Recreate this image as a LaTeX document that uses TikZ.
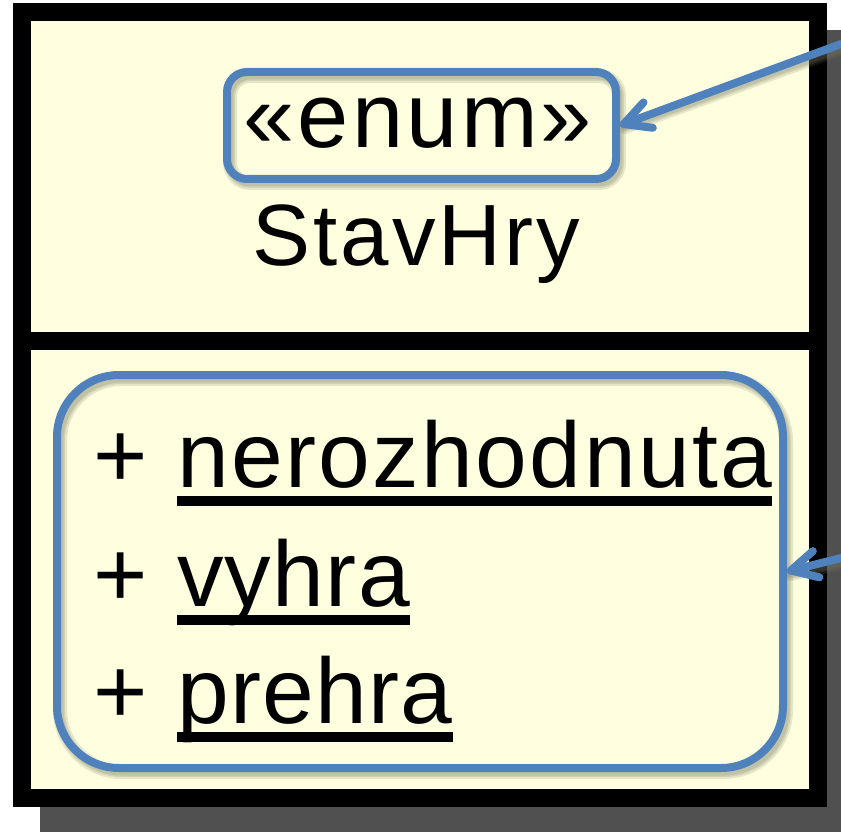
\documentclass[tikz,border=0pt]{standalone}
\usepackage{fontspec}
\setmainfont{Liberation Sans}
\newfontfamily\titlefont[LetterSpace=3.5]{Liberation Sans}
\newfontfamily\attrfont[LetterSpace=1.5]{Liberation Sans}
\newfontfamily\wideattrfont[LetterSpace=2.6]{Liberation Sans}
\usetikzlibrary{arrows.meta}
\definecolor{umlfill}{RGB}{255,255,224}
\definecolor{umlblue}{RGB}{79,129,189}
\definecolor{umlshadow}{RGB}{80,80,80}
\definecolor{softshadow}{RGB}{120,120,95}
\tikzset{
  frameline/.style={line width=18pt, draw=black},
  bluebox/.style={draw=umlblue, line width=8pt, inner sep=0pt},
  boxshadow/.style={draw=softshadow, line width=#1, opacity=0.18},
  bluearrow/.style={draw=umlblue, line width=8pt, line cap=round,
    -{Straight Barb[length=26pt,width=27pt,round]}},
  txt/.style={inner sep=0pt, outer sep=0pt, text=black},
  uline/.style={line width=9.5pt, draw=black},
}
\begin{document}
\begin{tikzpicture}[x=1pt,y=-1pt]
\useasboundingbox (0,0) rectangle (841,832);
% drop shadow of the class box
\fill[umlshadow] (40,30) rectangle (841,832);
% class frame
\draw[frameline, fill=umlfill] (22,12) rectangle (818,798);
\draw[frameline] (22,341) -- (818,341);

% soft shadows of the blue highlights
\foreach \w in {14pt,10pt,7pt}{
  \draw[boxshadow=\w, rounded corners=20pt] (230,76) rectangle (619,183);
  \draw[boxshadow=\w, rounded corners=62pt] (60,379) rectangle (786,772);
  \draw[boxshadow=\w, line cap=round] (845,47) -- (625,127);
  \draw[boxshadow=\w, line cap=round] (845,562) -- (791,574);
}

% blue highlight boxes
\node[bluebox, rounded corners=20pt, minimum width=389pt, minimum height=107pt]
  (stereo) at (421.5,125.5) {};
\node[bluebox, rounded corners=62pt, minimum width=726pt, minimum height=393pt]
  (attrs) at (420,571.5) {};

% texts
\node[txt, anchor=base] (stereotxt) at (418,148)
  {\titlefont\fontsize{92pt}{92pt}\selectfont «enum»};
\node[txt, anchor=base] (classname) at (416.5,265)
  {\titlefont\fontsize{87pt}{87pt}\selectfont StavHry};

\node[txt, anchor=base west] (p1) at (93,487) {\fontsize{93pt}{93pt}\selectfont +};
\node[txt, anchor=base west] (p2) at (93,606) {\fontsize{93pt}{93pt}\selectfont +};
\node[txt, anchor=base west] (p3) at (93,723) {\fontsize{93pt}{93pt}\selectfont +};
\node[txt, anchor=base west] (n1) at (177,487) {\wideattrfont\fontsize{93pt}{93pt}\selectfont nerozhodnuta};
\node[txt, anchor=base west] (n2) at (177,606) {\attrfont\fontsize{93pt}{93pt}\selectfont vyhra};
\node[txt, anchor=base west] (n3) at (177,723) {\attrfont\fontsize{93pt}{93pt}\selectfont prehra};
\draw[uline] ([yshift=-14pt]n1.base west) -- ([yshift=-14pt]n1.base east);
\draw[uline] ([yshift=-14pt]n2.base west) -- ([yshift=-14pt]n2.base east);
\draw[uline] ([yshift=-14pt]n3.base west) -- ([yshift=-14pt]n3.base east);

% pointer arrows
\coordinate (a1) at (841,44);
\coordinate (a2) at (841,558);
\draw[bluearrow] (a1) -- (stereo.east);
\draw[bluearrow] (a2) -- (attrs.east);
\end{tikzpicture}
\end{document}
